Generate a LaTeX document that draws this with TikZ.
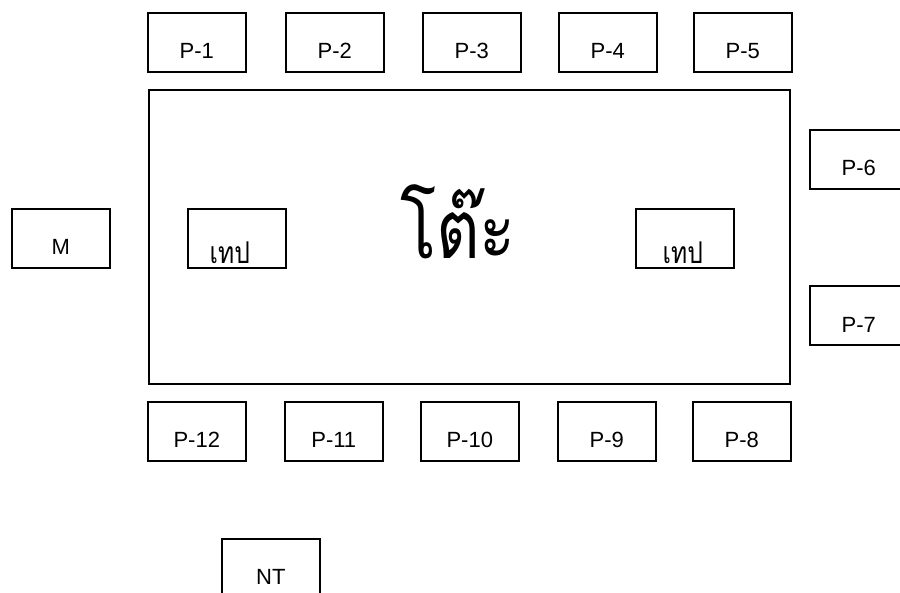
\documentclass[tikz,border=0pt]{standalone}
\usepackage{fontspec}
\newfontfamily\arial{Liberation Sans}
\newfontfamily\thaifont[Script=Thai,FakeStretch=0.82]{Loma}
\begin{document}
\begin{tikzpicture}[x=1pt,y=-1pt,
  box/.style={draw=black,line width=1.6pt,minimum width=98pt,minimum height=59pt,inner sep=0pt,anchor=north west,
    font=\arial\fontsize{22}{22}\selectfont,text height=32pt,text depth=0pt},
  tapebox/.style={box,font=\thaifont\fontsize{30}{30}\selectfont,text height=51pt},
  tablebox/.style={draw=black,line width=1.6pt,minimum width=641pt,minimum height=294pt,inner sep=0pt,anchor=north west}]
\useasboundingbox (0,0) rectangle (900,592);
\clip (0,0) rectangle (900,592);
\fill[white] (0,0) rectangle (900,592);
\node[tablebox] (table) at (148,89) {};
\node[anchor=base,font=\thaifont\fontsize{82}{82}\selectfont,inner sep=0pt] (title) at (458,258) {โต๊ะ};
\node[tapebox] (tape1) at (187,208) {เทป\kern14pt\null};
\node[tapebox] (tape2) at (635,208) {เทป\kern4pt\null};
\node[box] (p1) at (147,12) {P-1};
\node[box] (p2) at (285,12) {P-2};
\node[box] (p3) at (422,12) {P-3};
\node[box] (p4) at (558,12) {P-4};
\node[box] (p5) at (693,12) {P-5};
\node[box] (p6) at (809,129) {P-6};
\node[box,text height=35pt] (p7) at (809,285) {P-7};
\node[box,text height=33pt] (p8) at (692,401) {P-8};
\node[box,text height=33pt] (p9) at (557,401) {P-9};
\node[box,text height=33pt] (p10) at (420,401) {P-10};
\node[box,text height=33pt] (p11) at (284,401) {P-11};
\node[box,text height=33pt] (p12) at (147,401) {P-12};
\node[box] (m) at (11,208) {M};
\node[box] (nt) at (221,538) {NT};
\end{tikzpicture}
\end{document}
